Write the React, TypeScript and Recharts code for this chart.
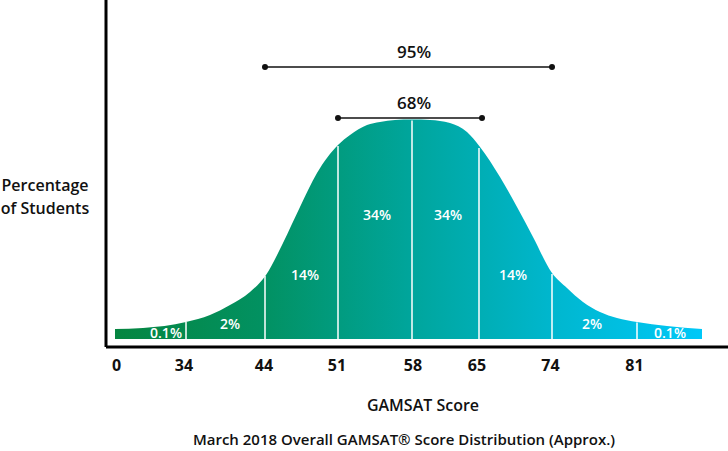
import { ComposedChart, Area, XAxis, YAxis, ReferenceLine, ReferenceDot } from 'recharts'

// curve profile: horizontal position (plot units) and height above baseline
const curvePos = [9, 37, 80, 104, 124, 144, 160, 177, 194, 211, 232, 244, 261, 274, 289, 306, 324, 344, 361, 374, 394, 411, 427, 446, 461, 477, 494, 511, 531, 561, 596]
const curveHeight = [10, 11, 17, 24, 34, 47, 64, 96, 132, 166, 194, 204, 214, 217, 219, 219.5, 219, 216, 207, 192, 162, 132, 102, 66, 51, 37, 27, 21, 17, 13, 10]

const scoreLabels = ['0', '34', '44', '51', '58', '65', '74', '81']
const scorePos = [10.5, 78, 158, 231, 307, 371, 444.5, 528.5]

// white band dividers
const dividerPos = [80, 159, 232, 306, 373, 446, 531]
const dividerHeight = [17, 63, 193, 218.5, 191, 65, 16.5]

// band percentage labels
const bandLabels = ['0.1%', '2%', '14%', '34%', '34%', '14%', '2%', '0.1%']
const bandPos = [60, 124, 199, 271, 342, 407, 486, 564]
const bandHeight = [6, 15, 64, 124, 124, 64, 15, 6]

// 68% / 95% brackets
const bracketLabels = ['95%', '68%']
const bracketFrom = [159, 232]
const bracketTo = [446, 376]
const bracketLevel = [272, 221]
const bracketTextLevel = [287, 236]

const data = curvePos.map((pos, i) => ({ pos, h: curveHeight[i] }))

const font = '"Open Sans", sans-serif'

const textStyle = {
    position: 'absolute' as const,
    transform: 'translate(-50%, -50%)',
    fontFamily: font,
    fontWeight: 600,
    color: '#111',
    whiteSpace: 'nowrap' as const,
    lineHeight: 1,
}

export default function App() {
    return (
        <div style={{ position: 'absolute', left: 0, top: 0, width: 728, height: 451, background: '#fff' }}>
            <ComposedChart
                width={728}
                height={451}
                data={data}
                margin={{ top: 0, right: 0, left: 96, bottom: 74 }}
            >
                <defs>
                    <linearGradient id="bell" x1="0" y1="0" x2="1" y2="0">
                        <stop offset="0%" stopColor="#058540" />
                        <stop offset="25%" stopColor="#029161" />
                        <stop offset="50%" stopColor="#00a59b" />
                        <stop offset="75%" stopColor="#00b7cf" />
                        <stop offset="100%" stopColor="#00c8f8" />
                    </linearGradient>
                </defs>
                <XAxis
                    dataKey="pos"
                    type="number"
                    domain={[0, 622]}
                    ticks={scorePos}
                    tickFormatter={(v) => scoreLabels[scorePos.indexOf(v)] ?? ''}
                    axisLine={{ stroke: '#000', strokeWidth: 3 }}
                    tickLine={false}
                    tickSize={6}
                    tickMargin={7}
                    height={30}
                    interval={0}
                    tick={{ fill: '#111', fontSize: 16, fontWeight: 700, fontFamily: font }}
                />
                <YAxis
                    type="number"
                    domain={[-8, 339]}
                    width={10}
                    tick={false}
                    tickLine={false}
                    axisLine={{ stroke: '#000', strokeWidth: 3 }}
                />
                <Area
                    type="monotone"
                    dataKey="h"
                    stroke="none"
                    fill="url(#bell)"
                    fillOpacity={1}
                    baseValue={0}
                    isAnimationActive={false}
                />
                {dividerPos.map((p, i) => (
                    <ReferenceLine
                        key={'d' + i}
                        segment={[{ x: p, y: 0 }, { x: p, y: dividerHeight[i] }]}
                        stroke="#fff"
                        strokeWidth={1.5}
                    />
                ))}
                {bandLabels.map((t, i) => (
                    <ReferenceDot
                        key={'b' + i}
                        x={bandPos[i]}
                        y={bandHeight[i]}
                        r={0}
                        stroke="none"
                        fill="none"
                        label={{ value: t, position: 'center', fill: '#fff', fontSize: 14, fontWeight: 600, fontFamily: font }}
                    />
                ))}
                {bracketLabels.map((t, i) => (
                    <ReferenceLine
                        key={'l' + i}
                        segment={[{ x: bracketFrom[i], y: bracketLevel[i] }, { x: bracketTo[i], y: bracketLevel[i] }]}
                        stroke="#111"
                        strokeWidth={1.5}
                    />
                ))}
                {bracketLabels.map((t, i) => (
                    <ReferenceDot key={'s' + i} x={bracketFrom[i]} y={bracketLevel[i]} r={3} fill="#111" stroke="none" />
                ))}
                {bracketLabels.map((t, i) => (
                    <ReferenceDot key={'e' + i} x={bracketTo[i]} y={bracketLevel[i]} r={3} fill="#111" stroke="none" />
                ))}
                {bracketLabels.map((t, i) => (
                    <ReferenceDot
                        key={'t' + i}
                        x={308}
                        y={bracketTextLevel[i]}
                        r={0}
                        stroke="none"
                        fill="none"
                        label={{ value: t, position: 'center', fill: '#111', fontSize: 17, fontWeight: 600, fontFamily: font }}
                    />
                ))}
            </ComposedChart>
            <div style={{ ...textStyle, left: 45, top: 185, fontSize: 16 }}>Percentage</div>
            <div style={{ ...textStyle, left: 45, top: 208, fontSize: 16 }}>of Students</div>
            <div style={{ ...textStyle, left: 423, top: 405, fontSize: 16 }}>GAMSAT Score</div>
            <div style={{ ...textStyle, left: 404, top: 439, fontSize: 15 }}>
                March 2018 Overall GAMSAT® Score Distribution (Approx.)
            </div>
        </div>
    )
}
